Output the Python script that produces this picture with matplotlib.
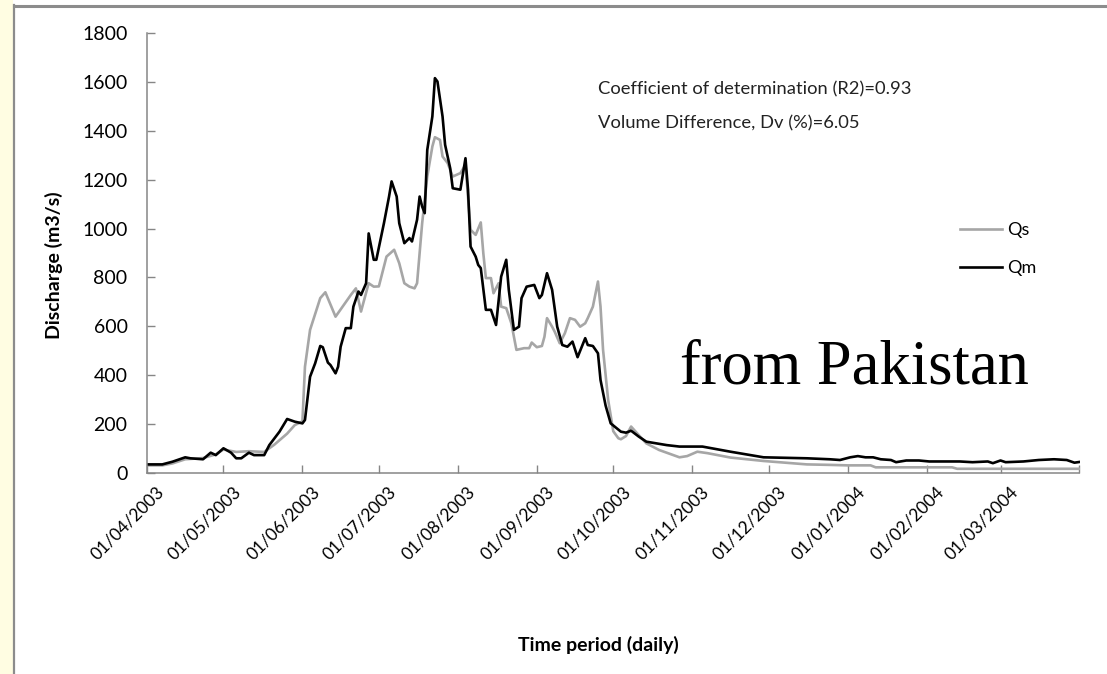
import numpy as np
import matplotlib
matplotlib.use('Agg')
import matplotlib.pyplot as plt
from matplotlib.lines import Line2D
from matplotlib.patches import Rectangle
from matplotlib.transforms import ScaledTranslation

# days counted from 01/04/2003, discharge in m3/s
qm_day = [0, 6, 10, 15, 17, 22, 25, 27, 30, 33, 35, 37, 40, 42, 46, 48, 52, 55, 58, 61,
          62, 64, 66, 68, 69, 71, 72, 74, 75, 76, 78, 80, 81, 83, 84, 86, 87, 89, 90, 93,
          95, 96, 98, 99, 101, 103, 104, 106, 107, 108, 109, 110, 112, 113, 114, 116, 117,
          119, 120, 123, 125, 126, 127, 129, 130, 131, 133, 135, 137, 139, 141, 142, 144,
          146, 147, 149, 152, 154, 155, 157, 159, 161, 163, 165, 167, 169, 172, 173, 175,
          177, 178, 180, 182, 186, 188, 190, 193, 196, 204, 209, 218, 229, 242, 259, 268,
          272, 276, 279, 282, 285, 288, 292, 294, 298, 303, 307, 314, 319, 324, 330, 332,
          335, 337, 344, 350, 356, 361, 364, 366]
qm_val = [34, 34, 45, 63, 59, 55, 82, 72, 100, 82, 59, 59, 82, 72, 72, 113, 168, 220, 209, 202,
          216, 393, 448, 519, 514, 451, 441, 407, 434, 516, 592, 592, 680, 742, 728, 776, 980, 872, 872, 1022,
          1131, 1193, 1131, 1022, 940, 961, 947, 1036, 1131, 1090, 1063, 1322, 1459, 1616, 1602, 1459, 1343,
          1247, 1165, 1159, 1288, 1159, 926, 885, 851, 838, 667, 667, 605, 803, 872, 749, 585,
          598, 715, 762, 769, 715, 728, 817, 749, 598, 523, 516, 537, 473, 551, 523, 519,
          489, 380, 275, 202, 168, 164, 172, 148, 127, 113, 107, 107, 86, 63, 59, 55,
          52, 63, 68, 63, 63, 55, 52, 43, 50, 50, 46, 46, 46, 43, 46, 39,
          50, 43, 46, 52, 55, 52, 41, 44]

qs_day = [0, 6, 10, 15, 22, 27, 30, 35, 40, 46, 50, 55, 58, 61, 62, 64, 68, 70, 74, 80,
          82, 84, 87, 89, 91, 94, 97, 99, 101, 103, 105, 106, 108, 110, 112, 113, 115, 116,
          118, 120, 123, 125, 127, 129, 131, 132, 133, 135, 136, 138, 139, 141, 143, 145,
          148, 150, 151, 153, 155, 156, 157, 159, 160, 162, 164, 166, 168, 170, 172, 173,
          175, 177, 178, 179, 181, 183, 185, 186, 188, 190, 193, 196, 201, 209, 212, 216,
          220, 229, 242, 259, 268, 275, 284, 286, 316, 318, 366]
qs_val = [30, 30, 38, 55, 60, 75, 95, 85, 88, 85, 115, 160, 195, 210, 434, 585, 715, 739, 639, 728,
          755, 660, 776, 762, 763, 885, 913, 858, 776, 762, 755, 776, 1022, 1213, 1336, 1374, 1363, 1295,
          1268, 1213, 1227, 1261, 995, 974, 1025, 899, 797, 797, 735, 776, 680, 674, 612, 503,
          510, 510, 533, 514, 519, 557, 633, 598, 578, 530, 571, 633, 626, 598, 612, 633,
          680, 783, 680, 503, 298, 170, 141, 137, 150, 189, 154, 120, 93, 63, 68, 86,
          80, 62, 48, 34, 32, 30, 30, 22, 22, 16, 16]

y_ticks = [0, 200, 400, 600, 800, 1000, 1200, 1400, 1600, 1800]
month_ticks = ['2003-04-01', '2003-05-01', '2003-06-01', '2003-07-01', '2003-08-01',
               '2003-09-01', '2003-10-01', '2003-11-01', '2003-12-01', '2004-01-01',
               '2004-02-01', '2004-03-01']

start = np.datetime64('2003-04-01')
qm_dates = start + np.array(qm_day).astype('timedelta64[D]')
qs_dates = start + np.array(qs_day).astype('timedelta64[D]')

plt.rcParams['font.family'] = ['Lato', 'DejaVu Sans']

fig = plt.figure(figsize=(11.07, 6.74), dpi=100)
ax = fig.add_axes([147 / 1107, 1 - 472.7 / 674, 932.5 / 1107, 439.5 / 674])

ax.plot(qs_dates, qs_val, color='#a6a6a6', lw=1.9, label='Qs')
ax.plot(qm_dates, qm_val, color='#000000', lw=1.9, label='Qm')

ax.set_ylim(0, 1800)
ax.set_yticks(y_ticks)
ax.set_xlim(np.datetime64('2003-04-01'), np.datetime64('2004-04-01'))
tick_dates = [np.datetime64(d) for d in month_ticks] + [np.datetime64('2004-04-01')]
tick_labels = [d[8:10] + '/' + d[5:7] + '/' + d[0:4] for d in month_ticks] + ['']
ax.set_xticks(tick_dates)
ax.set_xticklabels(tick_labels, rotation=45, ha='right', rotation_mode='anchor')

for side in ['top', 'right']:
    ax.spines[side].set_visible(False)
for side in ['left', 'bottom']:
    ax.spines[side].set_color('#868686')
    ax.spines[side].set_linewidth(1.1)
ax.tick_params(axis='both', direction='in', length=5.5, color='#868686', width=1)
ax.tick_params(axis='y', labelsize=14, pad=14)
ax.tick_params(axis='x', labelsize=12.5, pad=8)
for lbl in ax.get_xticklabels():
    lbl.set_transform(lbl.get_transform() + ScaledTranslation(9 / 100, 0, fig.dpi_scale_trans))

ax.set_ylabel('Discharge (m3/s)', fontsize=14, fontweight='bold')
ax.yaxis.set_label_coords(-0.09, 0.473)
fig.text(598 / 1107, 1 - 645 / 674, 'Time period (daily)', fontsize=14, fontweight='bold',
         ha='center', va='center')

ax.text(0.4837, 0.872, 'Coefficient of determination (R2)=0.93', transform=ax.transAxes,
        fontsize=13.2, va='center', color='#222222')
ax.text(0.4837, 0.795, 'Volume Difference, Dv (%)=6.05', transform=ax.transAxes,
        fontsize=13.2, va='center', color='#222222')
ax.text(0.5716, 0.204, 'from Pakistan', transform=ax.transAxes, fontsize=45,
        family='Liberation Serif', va='baseline')

ax.legend(loc='upper left', bbox_to_anchor=(0.872, 0.57), frameon=False, fontsize=13,
          handlelength=2.3, handletextpad=0.3, labelspacing=1.2, borderpad=0, borderaxespad=0)

# page frame: yellow strip and grey border lines
fig.patches.append(Rectangle((0, 0), 13 / 1107, 1, transform=fig.transFigure,
                             facecolor='#fffde2', edgecolor='none', zorder=-1))
fig.lines.append(Line2D([14 / 1107, 14 / 1107], [0, 1 - 5 / 674], transform=fig.transFigure,
                        color='#8c8c8c', lw=1.6))
fig.lines.append(Line2D([14 / 1107, 1], [1 - 5.5 / 674, 1 - 5.5 / 674], transform=fig.transFigure,
                        color='#8c8c8c', lw=2.2))

fig.savefig('out.png', dpi=100)
